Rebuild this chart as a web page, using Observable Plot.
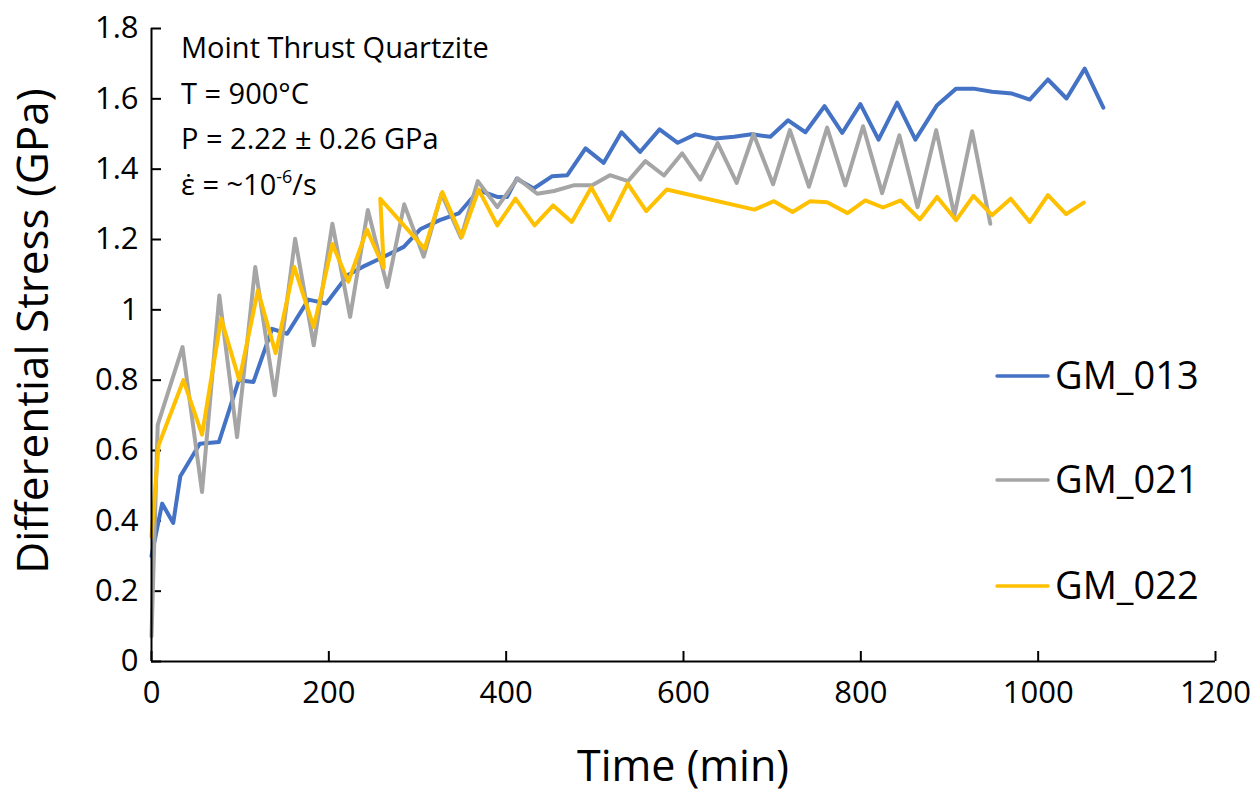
<!DOCTYPE html>
<html><head><meta charset="utf-8">
<script src="https://cdn.jsdelivr.net/npm/d3@7"></script>
<script src="https://cdn.jsdelivr.net/npm/@observablehq/plot@0.6"></script>
<style>
body{margin:0;background:#fff;}
#wrap{position:relative;width:1256px;height:794px;}
</style></head>
<body><div id="wrap"></div>
<script>
// Time (min) and differential stress (GPa)
const t013 = [0, 12, 24.5, 32.5, 54.5, 76, 98.5, 115, 136, 153, 177, 197, 221, 238, 258, 284.5, 303, 325, 346.5, 369, 390, 401, 412, 431, 452, 469, 489.5, 510, 530, 551, 573, 593.5, 613.5, 636, 657, 677, 698, 718, 737.5, 759, 779, 799.5, 820, 841, 861.5, 886, 907.5, 927, 948, 970.5, 990.5, 1011, 1032, 1052.5, 1073.5];
const v013 = [0.30, 0.449, 0.394, 0.527, 0.619, 0.624, 0.80, 0.795, 0.946, 0.932, 1.029, 1.018, 1.098, 1.122, 1.146, 1.179, 1.229, 1.255, 1.274, 1.340, 1.321, 1.321, 1.373, 1.345, 1.380, 1.383, 1.459, 1.418, 1.505, 1.449, 1.513, 1.475, 1.499, 1.487, 1.492, 1.499, 1.492, 1.539, 1.505, 1.579, 1.503, 1.585, 1.484, 1.589, 1.484, 1.582, 1.629, 1.629, 1.620, 1.615, 1.598, 1.655, 1.601, 1.686, 1.575];

const t021 = [0, 7, 35, 57, 76.5, 96.5, 117, 139, 162, 183, 204, 224, 244, 266, 285, 307, 327, 349, 368, 390, 413, 435, 454, 476, 497, 517, 537.5, 557, 578, 598.5, 619, 638.5, 660, 679, 701, 720, 741.5, 762, 782.5, 802.5, 824, 843.5, 864, 885, 905.5, 925.5, 946];
const v021 = [0.072, 0.673, 0.894, 0.482, 1.041, 0.638, 1.122, 0.757, 1.202, 0.899, 1.245, 0.98, 1.284, 1.065, 1.300, 1.151, 1.33, 1.205, 1.366, 1.292, 1.374, 1.330, 1.338, 1.354, 1.354, 1.383, 1.366, 1.423, 1.382, 1.445, 1.370, 1.474, 1.361, 1.500, 1.357, 1.511, 1.350, 1.518, 1.354, 1.522, 1.332, 1.496, 1.292, 1.511, 1.269, 1.508, 1.245];

const t022 = [0, 8, 36, 57, 78.5, 99, 120, 140, 161, 183, 204, 222, 243, 262, 258, 308, 328, 350, 369, 390, 410.5, 432, 453, 474, 496, 516.5, 537, 558, 581, 680, 702, 723, 743, 762, 785, 805, 825, 845, 866.5, 886, 907.5, 927, 948, 969, 990.5, 1011, 1031.5, 1051.5];
const v022 = [0.355, 0.615, 0.80, 0.645, 0.975, 0.80, 1.055, 0.877, 1.122, 0.951, 1.187, 1.080, 1.228, 1.120, 1.316, 1.174, 1.335, 1.207, 1.342, 1.240, 1.316, 1.240, 1.297, 1.250, 1.348, 1.255, 1.359, 1.281, 1.342, 1.285, 1.309, 1.278, 1.309, 1.306, 1.275, 1.311, 1.291, 1.311, 1.257, 1.321, 1.255, 1.324, 1.269, 1.316, 1.250, 1.326, 1.272, 1.305];

const seriesNames = ["GM_013", "GM_021", "GM_022"];
const seriesColors = ["#4472C4", "#A5A5A5", "#FFC000"];
const xTicks = [0, 200, 400, 600, 800, 1000, 1200];
const yTicks = [0, 0.2, 0.4, 0.6, 0.8, 1.0, 1.2, 1.4, 1.6, 1.8];
const noteLines = ["Moint Thrust Quartzite", "T = 900°C", "P = 2.22 ± 0.26 GPa"];
const xTitle = "Time (min)";
const yTitle = "Differential Stress (GPa)";

const rows = [];
[[t013, v013], [t021, v021], [t022, v022]].forEach(([t, v], i) => {
  t.forEach((tt, j) => rows.push({series: seriesNames[i], t: tt, v: v[j]}));
});

const FONT = '"Open Sans", sans-serif';

const plot = Plot.plot({
  width: 1256, height: 794,
  marginLeft: 151, marginRight: 41, marginTop: 28, marginBottom: 133,
  style: {fontFamily: FONT, background: "#fff", color: "#000"},
  x: {domain: [0, 1200]},
  y: {domain: [0, 1.8]},
  color: {domain: seriesNames, range: seriesColors},
  marks: [
    Plot.axisX({ticks: xTicks, tickSize: -10, tickPadding: 29, fontSize: 31, label: null, strokeWidth: 2, tickFormat: d => String(d)}),
    Plot.axisY({ticks: yTicks, tickSize: -10, tickPadding: 23, fontSize: 31, label: null, strokeWidth: 2, tickFormat: d => String(+d.toFixed(1))}),
    Plot.line(rows, {x: "t", y: "v", z: "series", stroke: "series", strokeWidth: 4, strokeLinejoin: "round", strokeLinecap: "round"}),
    Plot.ruleX([0], {stroke: "#000", strokeWidth: 2}),
    Plot.ruleY([0], {stroke: "#000", strokeWidth: 2})
  ]
});

document.getElementById("wrap").appendChild(plot);

const svg = d3.select(plot);
// axis titles
svg.append("text").attr("x", 683).attr("y", 781).attr("text-anchor", "middle")
  .attr("font-family", FONT).attr("font-size", 43).attr("fill", "#000").text(xTitle);
svg.append("text").attr("transform", "translate(48,331) rotate(-90)").attr("text-anchor", "middle")
  .attr("font-family", FONT).attr("font-size", 44).attr("fill", "#000").text(yTitle);

// annotation
const note = svg.append("g").attr("font-family", FONT).attr("font-size", 29).attr("fill", "#000").attr("text-anchor", "start");
const baselines = [58, 103.5, 149, 195];
noteLines.forEach((s, i) => note.append("text").attr("x", 181).attr("y", baselines[i]).text(s));
const rate = note.append("text").attr("x", 181).attr("y", baselines[3]);
rate.append("tspan").text("\u03B5\u0307 = ~10");
rate.append("tspan").attr("font-size", 18).attr("dy", -12).text("-6");
rate.append("tspan").attr("dy", 12).text("/s");

// legend
const leg = svg.append("g").attr("font-family", FONT).attr("font-size", 38).attr("fill", "#000").attr("text-anchor", "start");
const legY = [376, 480, 586];
seriesNames.forEach((s, i) => {
  leg.append("line").attr("x1", 997).attr("x2", 1048).attr("y1", legY[i]).attr("y2", legY[i])
    .attr("stroke", seriesColors[i]).attr("stroke-width", 3.5).attr("stroke-linecap", "round");
  leg.append("text").attr("x", 1055).attr("y", legY[i] + 13).text(s);
});
</script>
</body></html>
